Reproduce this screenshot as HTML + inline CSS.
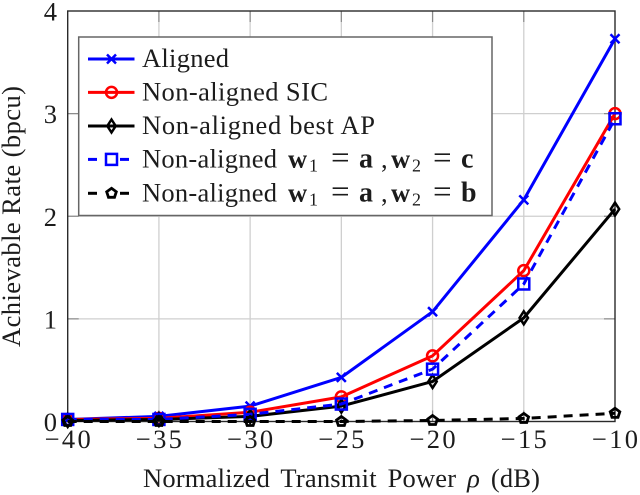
<!DOCTYPE html>
<html>
<head>
<meta charset="utf-8">
<style>
html,body{margin:0;padding:0;background:#fff;width:640px;height:495px;overflow:hidden}
svg{display:block}
text{font-family:"Liberation Serif",serif;fill:#1c1c1c}
</style>
</head>
<body>
<svg id="chart" width="640" height="495" viewBox="0 0 640 495" xmlns="http://www.w3.org/2000/svg">
<text transform="translate(20,216.5) rotate(-90)" text-anchor="middle" font-size="26.5" textLength="261" lengthAdjust="spacing">Achievable Rate (bpcu)</text>
<text x="143" y="487" font-size="26.5" word-spacing="4" textLength="397" lengthAdjust="spacing">Normalized Transmit Power <tspan font-style="italic">ρ</tspan> (dB)</text>
</svg>
<script>
const categories = [-40, -35, -30, -25, -20, -15, -10];
const xTickLabels = ['−40', '−35', '−30', '−25', '−20', '−15', '−10'];
const yTicks = [0, 1, 2, 3, 4];
const aligned = [0.02, 0.05, 0.15, 0.43, 1.07, 2.16, 3.73];
const nonAlignedSic = [0.02, 0.03, 0.09, 0.24, 0.64, 1.47, 3.00];
const nonAlignedBestAp = [0.01, 0.02, 0.05, 0.15, 0.39, 1.01, 2.07];
const nonAlignedAc = [0.02, 0.02, 0.07, 0.17, 0.51, 1.34, 2.95];
const nonAlignedAb = [0.00, 0.00, 0.00, 0.00, 0.01, 0.03, 0.08];

const svg = document.getElementById('chart');
const NS = 'http://www.w3.org/2000/svg';
const L = 67.7, R = 615, T = 11, B = 421.5;
const xS = v => L + (v - (-40)) / 30 * (R - L);
const yS = v => B - v / 4 * (B - T);

function mk(tag, attrs, parent) {
  const e = document.createElementNS(NS, tag);
  for (const k in attrs) e.setAttribute(k, attrs[k]);
  (parent || svg).appendChild(e);
  return e;
}

const grid = mk('g', {});


categories.forEach(c => {
  if (c === -40 || c === -10) return;
  mk('line', {x1: xS(c), x2: xS(c), y1: T, y2: B, stroke: '#cfcfcf', 'stroke-width': 1.3}, grid);
  mk('line', {x1: xS(c), x2: xS(c), y1: T, y2: T + 11, stroke: '#8a8a8a', 'stroke-width': 1.2}, grid);
  mk('line', {x1: xS(c), x2: xS(c), y1: B, y2: B - 11, stroke: '#8a8a8a', 'stroke-width': 1.2}, grid);
});
yTicks.forEach(t => {
  if (t === 0 || t === 4) return;
  mk('line', {x1: L, x2: R, y1: yS(t), y2: yS(t), stroke: '#cfcfcf', 'stroke-width': 1.3}, grid);
  mk('line', {x1: L, x2: L + 11, y1: yS(t), y2: yS(t), stroke: '#8a8a8a', 'stroke-width': 1.2}, grid);
  mk('line', {x1: R, x2: R - 11, y1: yS(t), y2: yS(t), stroke: '#8a8a8a', 'stroke-width': 1.2}, grid);
});

const frame = mk('rect', {x: L, y: T, width: R - L, height: B - T, fill: 'none', stroke: '#2a2a2a', 'stroke-width': 1.4});



categories.forEach((c, i) => {
  const t = mk('text', {x: xS(c) - 23, y: 448, 'font-size': 26.5, textLength: 46, lengthAdjust: 'spacing'});
  
  
  t.textContent = xTickLabels[i];
});
yTicks.forEach(v => {
  const t = mk('text', {x: 57, y: yS(v) + 9.5, 'text-anchor': 'end', 'font-size': 26.5});
  
  
  t.textContent = String(v);
});

function marker(kind, x, y, color, parent) {
  const s = {fill: 'none', stroke: color, 'stroke-width': 2.5};
  if (kind === 'x') {
    mk('path', Object.assign({}, s, {d: `M${x-4.5} ${y-4.5}L${x+4.5} ${y+4.5}M${x-4.5} ${y+4.5}L${x+4.5} ${y-4.5}`}), parent);
  } else if (kind === 'o') {
    mk('circle', Object.assign({}, s, {cx: x, cy: y, r: 5.5}), parent);
  } else if (kind === 'd') {
    mk('path', Object.assign({}, s, {d: `M${x} ${y-6.5}L${x+4.2} ${y}L${x} ${y+6.5}L${x-4.2} ${y}Z`}), parent);
  } else if (kind === 's') {
    mk('rect', Object.assign({}, s, {x: x - 5.5, y: y - 5.5, width: 11, height: 11}), parent);
  } else if (kind === 'p') {
    mk('path', Object.assign({}, s, {'stroke-width': 2.8, d: `M${x} ${y-5}L${x+4.8} ${y-1.5}L${x+3} ${y+4}L${x-3} ${y+4}L${x-4.8} ${y-1.5}Z`}), parent);
  }
}

function drawSeries(values, color, dash, kind, name) {
  const g = mk('g', {});
  
  
  const pts = values.map((v, i) => xS(categories[i]).toFixed(2) + ',' + yS(v).toFixed(2)).join(' ');
  const attrs = {points: pts, fill: 'none', stroke: color, 'stroke-width': 3, 'stroke-linejoin': 'round'};
  if (dash) attrs['stroke-dasharray'] = dash;
  mk('polyline', attrs, g);
  values.forEach((v, i) => marker(kind, xS(categories[i]), yS(v), color, g));
}

drawSeries(aligned, '#0000ff', '', 'x', 'series-aligned');
drawSeries(nonAlignedSic, '#ff0000', '', 'o', 'series-non-aligned-sic');
drawSeries(nonAlignedBestAp, '#000', '', 'd', 'series-non-aligned-best-ap');
drawSeries(nonAlignedAc, '#0000ff', '9 7', 's', 'series-non-aligned-a-c');
drawSeries(nonAlignedAb, '#000', '9 7', 'p', 'series-non-aligned-a-b');

const legend = mk('g', {});


mk('rect', {x: 78.7, y: 37, width: 413.3, height: 178.5, fill: '#fff', stroke: '#666', 'stroke-width': 1.5}, legend);

const legendKinds = ['x', 'o', 'd', 's', 'p'];
const legendColors = ['#0000ff', '#ff0000', '#000', '#0000ff', '#000'];
const legendDashed = [false, false, false, true, true];
const legendLabels = ['Aligned', 'Non-aligned SIC', 'Non-aligned best AP', 'Non-aligned', 'Non-aligned'];
const legendLengths = [87, 186, 233, 135, 135];
const legendFormulaEnd = ['', '', '', 'c', 'b'];

function formulaPiece(parent, str, x, y, size, weight) {
  const t = mk('text', {x: x, y: y, 'font-size': size, 'font-weight': weight}, parent);
  t.textContent = str;
}

legendLabels.forEach((label, i) => {
  const y = [59, 92.4, 126, 159.4, 193.3][i];
  const entry = mk('g', {}, legend);
  
  
  if (legendDashed[i]) {
    mk('line', {x1: 88, x2: 97, y1: y, y2: y, stroke: legendColors[i], 'stroke-width': 3}, entry);
    mk('line', {x1: 120, x2: 129, y1: y, y2: y, stroke: legendColors[i], 'stroke-width': 3}, entry);
  } else {
    mk('line', {x1: 88, x2: 134.5, y1: y, y2: y, stroke: legendColors[i], 'stroke-width': 3}, entry);
  }
  marker(legendKinds[i], 111.5, y, legendColors[i], entry);
  const t = mk('text', {x: 142, y: y + 8, 'font-size': 26.5, textLength: legendLengths[i], lengthAdjust: 'spacing'}, entry);
  t.textContent = label;
  if (legendFormulaEnd[i]) {
    const base = y + 8;
    formulaPiece(entry, 'w', 288, base, 26.5, 'bold');
    formulaPiece(entry, '1', 309, base + 4, 18, 'normal');
    formulaPiece(entry, '=', 331, base + 1, 33, 'normal');
    formulaPiece(entry, 'a', 359, base, 28, 'bold');
    formulaPiece(entry, ',', 381, base, 26.5, 'normal');
    formulaPiece(entry, 'w', 391, base, 26.5, 'bold');
    formulaPiece(entry, '2', 412, base + 4, 18, 'normal');
    formulaPiece(entry, '=', 433, base + 1, 33, 'normal');
    formulaPiece(entry, legendFormulaEnd[i], 461, base, 28, 'bold');
  }
});
</script>
</body>
</html>
